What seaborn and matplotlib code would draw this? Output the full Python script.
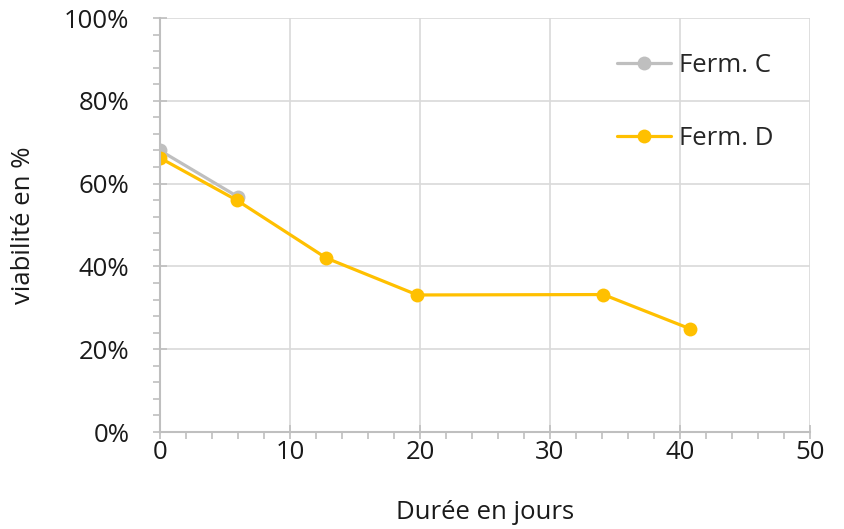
import matplotlib
matplotlib.use("Agg")
import matplotlib.pyplot as plt
from matplotlib.ticker import MultipleLocator, FuncFormatter
import pandas as pd
import seaborn as sns

# Données
jours_c = [0, 6]
viab_c = [68, 56.8]
jours_d = [0, 5.9, 12.8, 19.8, 34.1, 40.8]
viab_d = [66.2, 56.0, 42.0, 33.1, 33.2, 24.9]

df = pd.concat([
    pd.DataFrame({"jours": jours_c, "viab": viab_c, "serie": "Ferm. C"}),
    pd.DataFrame({"jours": jours_d, "viab": viab_d, "serie": "Ferm. D"}),
])

sns.set_style("white")
plt.rcParams["font.family"] = ["Open Sans", "DejaVu Sans"]
fs = 18.5

fig = plt.figure(figsize=(8.44, 5.29), dpi=100)
ax = fig.add_axes([160 / 844, 1 - 432 / 529, 650 / 844, 414 / 529])

sns.lineplot(
    data=df, x="jours", y="viab", hue="serie",
    palette={"Ferm. C": "#BFBFBF", "Ferm. D": "#FFC000"},
    marker="o", markersize=10, markeredgewidth=0, linewidth=2.3,
    ax=ax,
)

ax.set_xlim(0, 50)
ax.set_ylim(0, 100)
ax.xaxis.set_major_locator(MultipleLocator(10))
ax.xaxis.set_minor_locator(MultipleLocator(2))
ax.yaxis.set_major_locator(MultipleLocator(20))
ax.yaxis.set_minor_locator(MultipleLocator(4))
ax.yaxis.set_major_formatter(FuncFormatter(lambda v, p: f"{v:.0f}%"))

ax.grid(True, which="major", color="#d9d9d9", linewidth=1.2)
ax.set_axisbelow(True)
for s in ["top", "right"]:
    ax.spines[s].set_visible(False)
for s in ["left", "bottom"]:
    ax.spines[s].set_color("#bfbfbf")
    ax.spines[s].set_linewidth(1.5)

ax.tick_params(which="major", direction="inout", length=10, width=1.2,
               color="#bfbfbf", labelsize=fs, labelcolor="#1a1a1a")
ax.tick_params(axis="x", which="major", pad=1)
ax.tick_params(axis="y", which="major", pad=17)
ax.tick_params(which="minor", direction="out", length=5, width=1.2,
               color="#bfbfbf")
ax.tick_params(axis="both", which="both", bottom=True, left=True)

ax.set_xlabel("Durée en jours", fontsize=fs, color="#1a1a1a", labelpad=25)
ax.set_ylabel("viabilité en %", fontsize=fs, color="#1a1a1a", labelpad=20)

ax.legend(loc="upper left", bbox_to_anchor=(0.703, 0.915), frameon=False,
          fontsize=fs, labelspacing=1.85, handlelength=2.1, handletextpad=0.3,
          borderpad=0, borderaxespad=0, title=None)

fig.savefig("out.png", dpi=100)
